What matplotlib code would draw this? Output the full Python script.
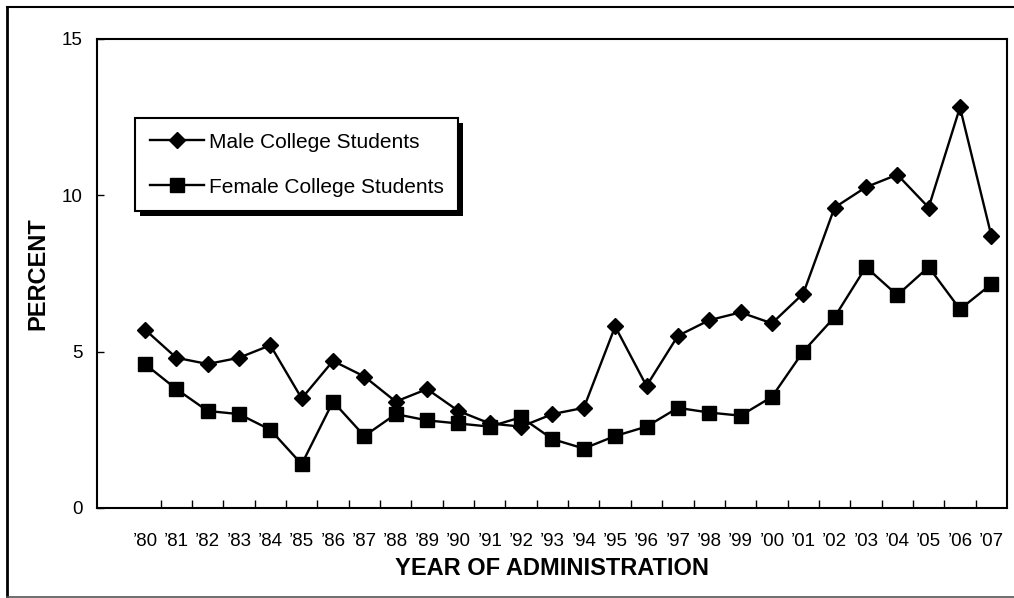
import matplotlib
matplotlib.use("Agg")
import matplotlib.pyplot as plt
import matplotlib.patheffects as pe
from matplotlib.lines import Line2D
import numpy as np

plt.rcParams['font.family'] = ['Liberation Sans', 'DejaVu Sans']

# data
years = ["\u201980", "\u201981", "\u201982", "\u201983", "\u201984", "\u201985", "\u201986",
         "\u201987", "\u201988", "\u201989", "\u201990", "\u201991", "\u201992", "\u201993",
         "\u201994", "\u201995", "\u201996", "\u201997", "\u201998", "\u201999", "\u201900",
         "\u201901", "\u201902", "\u201903", "\u201904", "\u201905", "\u201906", "\u201907"]
male = [5.7, 4.8, 4.6, 4.8, 5.2, 3.5, 4.7, 4.2, 3.4, 3.8,
        3.1, 2.7, 2.6, 3.0, 3.2, 5.8, 3.9, 5.5, 6.0, 6.25,
        5.9, 6.85, 9.6, 10.25, 10.65, 9.6, 12.8, 8.7]
female = [4.6, 3.8, 3.1, 3.0, 2.5, 1.4, 3.4, 2.3, 3.0, 2.8,
          2.7, 2.6, 2.9, 2.2, 1.9, 2.3, 2.6, 3.2, 3.05, 2.95,
          3.55, 5.0, 6.1, 7.7, 6.8, 7.7, 6.35, 7.15]

x = np.arange(len(years))

fig = plt.figure(figsize=(10.14, 5.98), dpi=100)
ax = fig.add_axes([97 / 1014, 1 - 508 / 598, 910 / 1014, 469.5 / 598])

ax.plot(x, male, color='black', lw=1.7, marker='D', ms=8, mfc='black', mec='black',
        label='Male College Students')
ax.plot(x, female, color='black', lw=1.7, marker='s', ms=10, mfc='black', mec='black',
        label='Female College Students')

ax.set_xlim(-1.53, len(years) - 0.5)
ax.set_ylim(0, 15)
ax.set_yticks([0, 5, 10, 15])
ax.tick_params(axis='y', direction='in', length=5, width=1, labelsize=13.5, pad=10.5)

# tick marks between categories, labels centred on categories
ax.set_xticks(x[:-1] + 0.5)
ax.set_xticklabels([])
ax.set_xticks(x, minor=True)
ax.set_xticklabels(years, minor=True)
ax.tick_params(axis='x', which='major', direction='in', length=6, width=1)
ax.tick_params(axis='x', which='minor', length=0, labelsize=13.5, pad=18)

for s in ax.spines.values():
    s.set_linewidth(1.5)

ax.set_xlabel('YEAR OF ADMINISTRATION', fontsize=17, fontweight='bold', labelpad=5)
ax.set_ylabel('PERCENT', fontsize=17, fontweight='bold', labelpad=9)

leg = ax.legend(loc='upper left', bbox_to_anchor=((135 - 97) / 910, (508 - 118) / 469.5),
                borderaxespad=0, fancybox=False, edgecolor='black', framealpha=1,
                fontsize=15, handlelength=2.6, handletextpad=0.25, labelspacing=1.25,
                borderpad=0.7, markerscale=1)
leg.get_frame().set_linewidth(1.5)
leg.get_frame().set_path_effects([
    pe.SimplePatchShadow(offset=(3.6, -3.6), shadow_rgbFace='black', alpha=1),
    pe.Normal()])

# outer border of the chart area
fig.add_artist(Line2D([7 / 1014, 1.01], [1 - 7 / 598] * 2, transform=fig.transFigure,
                      color='black', lw=1.5))
fig.add_artist(Line2D([7 / 1014] * 2, [1 - 7 / 598, 1 - 597 / 598], transform=fig.transFigure,
                      color='black', lw=2))
fig.add_artist(Line2D([7 / 1014, 1.01], [1 - 597 / 598] * 2, transform=fig.transFigure,
                      color='#555555', lw=1.2))

fig.savefig('out.png', dpi=100)
